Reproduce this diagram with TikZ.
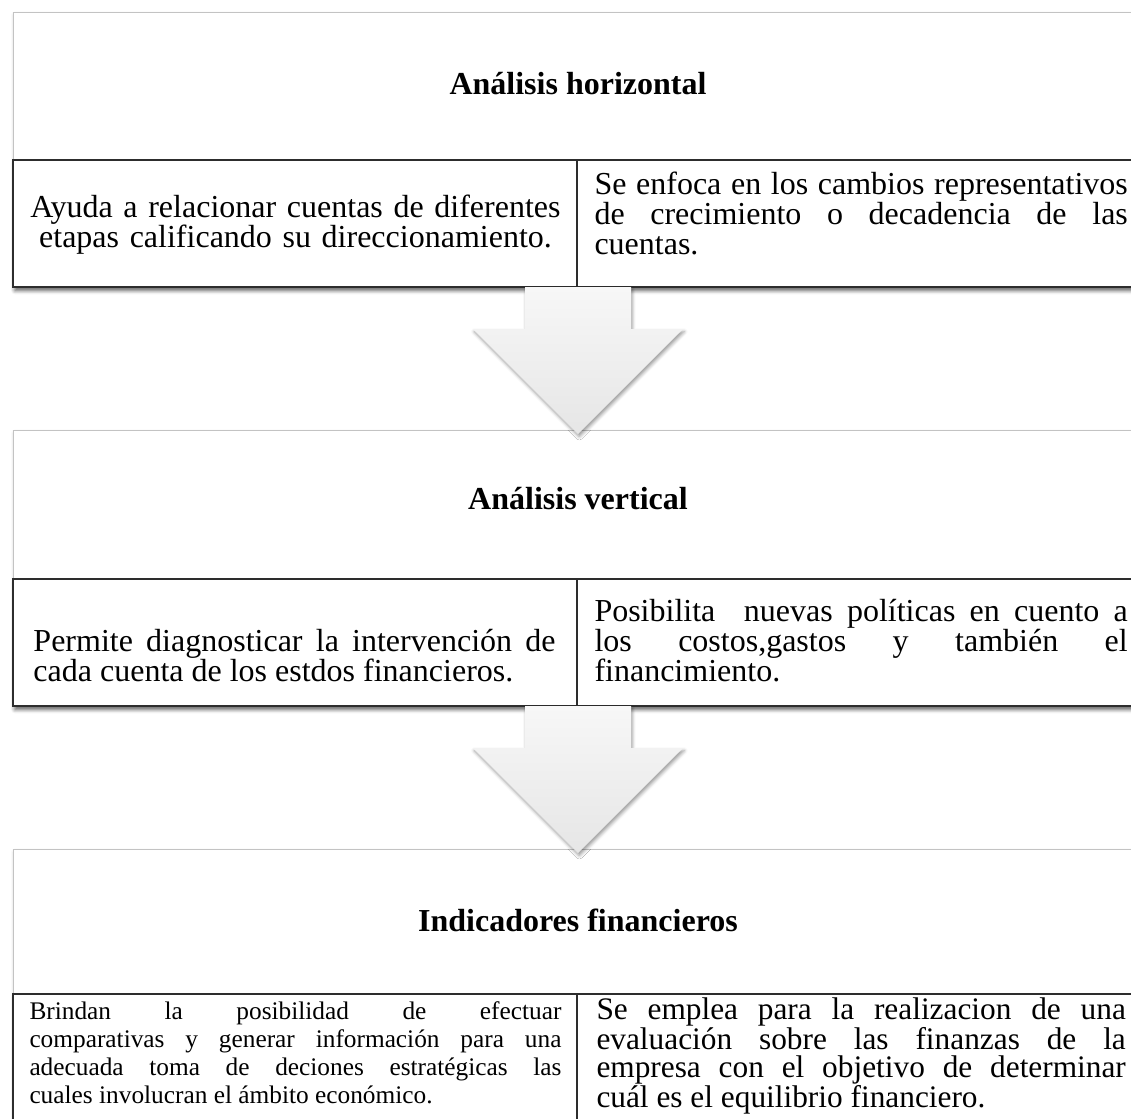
\documentclass[tikz,border=0pt]{standalone}
\usepackage{fontspec}
\setmainfont{Liberation Serif}
\usetikzlibrary{shadows.blur}

\definecolor{arrowhi}{RGB}{247,247,247}
\definecolor{arrowlo}{RGB}{230,230,230}
\tolerance=9999

\tikzset{every picture/.style={line width=0.75pt}}
\tikzset{
  panelbox/.style={draw={rgb, 255:red, 195; green, 195; blue, 195}, line width=0.6pt, fill=white,
    blur shadow={shadow xshift=1.5pt, shadow yshift=-2.5pt, shadow blur radius=3pt, shadow opacity=30}},
  tablebox/.style={draw={rgb, 255:red, 45; green, 45; blue, 45}, line width=1pt, fill=white,
    blur shadow={shadow xshift=1.5pt, shadow yshift=-2.5pt, shadow blur radius=3pt, shadow opacity=45}},
  bigarrow/.style={draw=none, top color=arrowhi, bottom color=arrowlo,
    blur shadow={shadow xshift=1pt, shadow yshift=-2pt, shadow blur radius=2.5pt, shadow opacity=40}},
  heading/.style={font=\fontsize{24}{28}\selectfont\bfseries, inner sep=0pt, anchor=base},
  cell/.style={font=\fontsize{24}{22.5}\selectfont, inner sep=0pt, anchor=base west, align=justify, text width=#1},
}

\begin{document}
\begin{tikzpicture}[x=0.75pt,y=0.75pt,yscale=-1,xscale=1]
\useasboundingbox (0,0) rectangle (1131,1118);
\clip (0,0) rectangle (1131,1118);

%Shape: Rectangle [panel horizontal]
\draw [panelbox] (13,12) rectangle (1145,287);
\draw [tablebox] (13,160) rectangle (1145,287);
\draw [draw={rgb, 255:red, 45; green, 45; blue, 45}, line width=1pt] (577,160) -- (577,287);
\coordinate (arrA) at (578,287);

% Text Node
\node [heading] (hdA) at (578,94) {Análisis horizontal};
\node [cell=420pt, align=center] (hzL) at (15,217) {Ayuda a relacionar cuentas de diferentes\\ etapas calificando su direccionamiento.};
\node [cell=400pt] (hzR) at (594,194) {Se enfoca en los cambios representativos\linebreak de crecimiento o decadencia de las\linebreak cuentas.};

%Shape: Rectangle [panel vertical]
\draw [panelbox] (13,430) rectangle (1145,706);
\draw [tablebox] (13,579) rectangle (1145,706);
\draw [draw={rgb, 255:red, 45; green, 45; blue, 45}, line width=1pt] (577,579) -- (577,706);
\coordinate (arrB) at (578,706);

% Text Node
\node [heading] (hdB) at (578,509) {Análisis vertical};
\node [cell=391.5pt] (vtL) at (33,651) {Permite diagnosticar la intervención de\linebreak cada cuenta de los estdos financieros.};
\node [cell=400pt] (vtR) at (594,621) {Posibilita\ \ nuevas políticas en cuento a\linebreak los costos,gastos y también el\linebreak financimiento.};

%Shape: Down Arrow
\draw [bigarrow] (arrA) ++(-53,0) -- ++(106,0) -- ++(0,42) -- ++(52,0) -- ++(-105,105) -- ++(-105,-105) -- ++(52,0) -- cycle;

%Shape: Rectangle [panel indicadores]
\draw [panelbox] (13,849) rectangle (1145,1160);
\draw [tablebox] (13,994) rectangle (1145,1160);
\draw [draw={rgb, 255:red, 45; green, 45; blue, 45}, line width=1pt] (577,994) -- (577,1160);

% Text Node
\node [heading] (hdC) at (578,931) {Indicadores financieros};
\node [cell=399pt, font=\fontsize{19}{21}\selectfont] (inL) at (29,1019) {Brindan la posibilidad de efectuar\linebreak comparativas y generar información para una\linebreak adecuada toma de deciones estratégicas las\linebreak cuales involucran el ámbito económico.};
\node [cell=397pt, font=\fontsize{23.5}{21}\selectfont] (inR) at (596,1019) {Se emplea para la realizacion de una\linebreak evaluación sobre las finanzas de la\linebreak empresa con el objetivo de determinar\linebreak cuál es el equilibrio financiero.};

%Shape: Down Arrow
\draw [bigarrow] (arrB) ++(-53,0) -- ++(106,0) -- ++(0,42) -- ++(52,0) -- ++(-105,105) -- ++(-105,-105) -- ++(52,0) -- cycle;

\end{tikzpicture}
\end{document}
